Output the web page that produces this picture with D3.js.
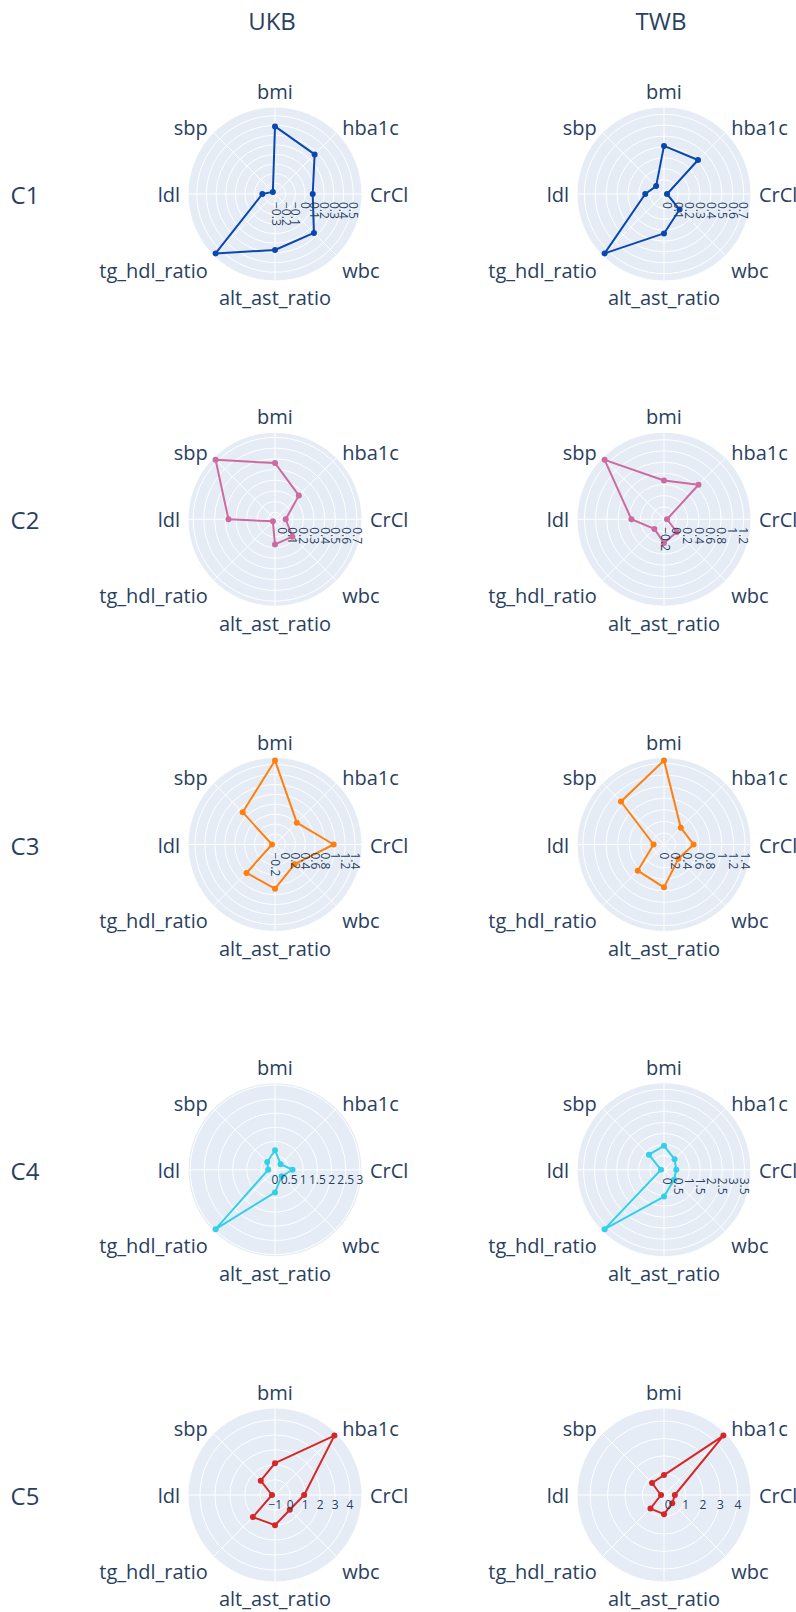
<!DOCTYPE html>
<html>
<head>
<meta charset="utf-8">
<script src="https://cdn.jsdelivr.net/npm/d3@7"></script>
<style>
  body { margin: 0; background: #fff; }
  text { font-family: "Open Sans", verdana, arial, sans-serif; fill: #2a3f5f; }
</style>
</head>
<body>
<div id="chart"></div>
<script>
// axes of every radar, clockwise from the top
var categories = ["bmi", "hba1c", "CrCl", "wbc", "alt_ast_ratio", "tg_hdl_ratio", "ldl", "sbp"];
var cohorts = ["UKB", "TWB"];
var clusters = ["C1", "C2", "C3", "C4", "C5"];
var clusterColors = ["#0a47b0", "#cc6b9f", "#ff7f0e", "#33d0e8", "#d62728"];

// values per cluster (same order as categories)
var ukb_C1 = [0.39, 0.27, 0.08, 0.26, 0.27, 0.56, -0.18, -0.28];
var ukb_C2 = [0.46, 0.25, 0.035, 0.165, 0.17, -0.037, 0.37, 0.72];
var ukb_C3 = [1.48, 0.41, 0.97, 0.35, 0.68, 0.60, -0.15, 0.71];
var ukb_C4 = [0.69, 0.28, 0.62, 0.33, 0.80, 2.97, 0.24, 0.39];
var ukb_C5 = [1.11, 4.60, 0.93, 0.38, 1.00, 1.07, -0.82, 0.33];

var twb_C1 = [0.41, 0.41, -0.005, 0.17, 0.33, 0.74, 0.14, 0.07];
var twb_C2 = [0.47, 0.65, -0.17, 0.10, 0.20, 0.02, 0.36, 1.28];
var twb_C3 = [1.45, 0.41, 0.51, 0.35, 0.74, 0.64, 0.18, 1.05];
var twb_C4 = [0.94, 0.53, 0.41, 0.50, 1.07, 3.66, -0.01, 0.82];
var twb_C5 = [0.90, 4.58, 0.38, 0.43, 0.86, 0.86, -0.07, 0.73];

// radial tick spacing per panel
var ukbTickStep = [0.1, 0.1, 0.2, 0.5, 1];
var twbTickStep = [0.1, 0.2, 0.2, 0.5, 1];
// radial tick labels turned 90deg where they would collide
var ukbTickRotate = [true, true, true, false, false];
var twbTickRotate = [true, true, true, true, false];

var series = [
    [ukb_C1, ukb_C2, ukb_C3, ukb_C4, ukb_C5],
    [twb_C1, twb_C2, twb_C3, twb_C4, twb_C5]
];
var tickSteps = [ukbTickStep, twbTickStep];
var tickRotate = [ukbTickRotate, twbTickRotate];

var W = 796, H = 1612;
var R = 87;          // radius of each polar area
var PAD = 3;         // marker padding like plotly autorange
var colX = [275, 664];
var rowY0 = 194, rowStep = 325.25;

var svg = d3.select("#chart").append("svg")
    .attr("width", W)
    .attr("height", H);

// column titles
svg.selectAll(".col-title")
    .data(cohorts)
    .enter()
    .append("text")
    .attr("class", "col-title")
    .attr("x", function(d, i) { return colX[i] - 3; })
    .attr("y", 30)
    .attr("text-anchor", "middle")
    .style("font-size", "24px")
    .text(function(d) { return d; });

// row labels
svg.selectAll(".row-title")
    .data(clusters)
    .enter()
    .append("text")
    .attr("class", "row-title")
    .attr("x", 25)
    .attr("y", function(d, i) { return rowY0 + i * rowStep + 10; })
    .attr("text-anchor", "middle")
    .style("font-size", "24px")
    .text(function(d) { return d; });

var angleScale = d3.scalePoint().domain(categories).range([0, 2 * Math.PI * 7 / 8]);

function fmt(v) {
    if (Math.abs(v) < 1e-9) v = 0;
    return d3.format("~g")(v);
}

function drawPanel(ci, ri) {
    var vals = series[ci][ri];
    var color = clusterColors[ri];
    var step = tickSteps[ci][ri];
    var rotate = tickRotate[ci][ri];
    var cx = colX[ci], cy = rowY0 + ri * rowStep;

    // radial domain like plotly: tozero, padded by marker size
    var lo = d3.min(vals), hi = d3.max(vals);
    var rScale;
    if (lo < 0) {
        var span = (hi - lo) * R / (R - 2 * PAD);
        var a = lo - PAD * span / R;
        rScale = d3.scaleLinear().domain([a, a + span]).range([0, R]);
    } else {
        rScale = d3.scaleLinear().domain([0, hi * R / (R - PAD)]).range([0, R]);
    }
    var dom = rScale.domain();
    var ticks = d3.range(Math.ceil(dom[0] / step - 1e-9), Math.floor(dom[1] / step + 1e-9) + 1)
        .map(function(k) { return k * step; });

    var g = svg.append("g").attr("transform", "translate(" + cx + "," + cy + ")");

    g.append("circle").attr("r", R).attr("fill", "#E5ECF6");

    // grid circles
    g.selectAll(".grid")
        .data(ticks.filter(function(t) { return rScale(t) > 0.5; }))
        .enter()
        .append("circle")
        .attr("r", function(d) { return rScale(d); })
        .attr("fill", "none")
        .attr("stroke", "#fff")
        .attr("stroke-width", 1);

    // spokes
    g.selectAll(".spoke")
        .data(categories)
        .enter()
        .append("line")
        .attr("x1", 0).attr("y1", 0)
        .attr("x2", function(d) { return R * Math.sin(angleScale(d)); })
        .attr("y2", function(d) { return -R * Math.cos(angleScale(d)); })
        .attr("stroke", "#fff")
        .attr("stroke-width", 1);

    g.append("circle").attr("r", R).attr("fill", "none").attr("stroke", "#fff").attr("stroke-width", 1);

    // angular labels
    var rl = R + 8;
    g.selectAll(".alab")
        .data(categories)
        .enter()
        .append("text")
        .attr("x", function(d) { return rl * Math.sin(angleScale(d)); })
        .attr("y", function(d) { return -rl * Math.cos(angleScale(d)); })
        .attr("text-anchor", function(d) {
            var s = Math.sin(angleScale(d));
            return s > 0.01 ? "start" : (s < -0.01 ? "end" : "middle");
        })
        .attr("dy", function(d) {
            var up = Math.cos(angleScale(d)), side = Math.abs(Math.sin(angleScale(d)));
            if (up >= -0.01) return (0.4 * Math.min(1, side * 1.414)) + "em";
            return (0.4 + 0.42 * Math.min(1, -up * 1.414)) + "em";
        })
        .style("font-size", "20px")
        .text(function(d) { return d; });

    // data
    var pts = vals.map(function(v, i) {
        var ang = angleScale(categories[i]);
        return [rScale(v) * Math.sin(ang), -rScale(v) * Math.cos(ang)];
    });
    g.append("path")
        .attr("d", d3.line().curve(d3.curveLinearClosed)(pts))
        .attr("fill", "none")
        .attr("stroke", color)
        .attr("stroke-width", 2)
        .attr("stroke-linejoin", "round");
    g.selectAll(".pt")
        .data(pts)
        .enter()
        .append("circle")
        .attr("cx", function(d) { return d[0]; })
        .attr("cy", function(d) { return d[1]; })
        .attr("r", 3)
        .attr("fill", color);

    // radial tick labels (above traces)
    var tl = g.selectAll(".rtick")
        .data(ticks)
        .enter()
        .append("text")
        .style("font-size", "12px")
        .text(function(d) { return fmt(Math.round(d / step) * step); });
    if (rotate) {
        tl.attr("transform", function(d) { return "translate(" + rScale(d) + ",8) rotate(90)"; })
            .attr("text-anchor", "start")
            .attr("dy", "0.35em");
    } else {
        tl.attr("x", function(d) { return rScale(d); })
            .attr("y", 5)
            .attr("dy", "0.75em")
            .attr("text-anchor", "middle");
    }
}

for (var ci = 0; ci < cohorts.length; ci++) {
    for (var ri = 0; ri < clusters.length; ri++) {
        drawPanel(ci, ri);
    }
}
</script>
</body>
</html>
